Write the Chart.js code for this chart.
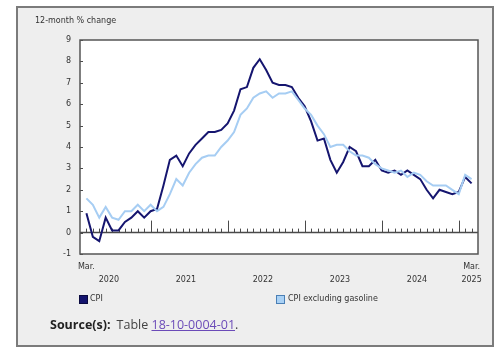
<!DOCTYPE html>
<html>
<head>
<meta charset="utf-8">
<script src="https://cdn.jsdelivr.net/npm/chart.js@4.4.1/dist/chart.umd.min.js"></script>
<style>
  html, body { margin: 0; padding: 0; background: #ffffff; }
  #wrap { position: relative; width: 500px; height: 355px; overflow: hidden; }
  #box { position: absolute; left: 16px; top: 6px; width: 474px; height: 337px; background: #eeeeee; border: 2px solid #7b7b7b; }
  #c { position: absolute; left: 0; top: 0; }
  .leg { position: absolute; font: 8px "DejaVu Sans", sans-serif; color: #333; white-space: nowrap; }
  .sw { position: absolute; width: 7px; height: 7px; }
  #src { position: absolute; left: 50px; top: 316px; font: 12.5px "Open Sans", sans-serif; color: #444; white-space: nowrap; }
  #src b { color: #222; font-weight: 700; margin-right: 6px; }
  #src a { color: #6b4bb8; text-decoration: underline; }
</style>
</head>
<body>
<div id="wrap">
  <div id="box"></div>
  <canvas id="c" width="500" height="355"></canvas>
  <div class="sw" style="left:79px;top:295px;background:#14146e;border:1px solid #0a0a40;"></div>
  <div class="leg" style="left:90px;top:294px;">CPI</div>
  <div class="sw" style="left:276px;top:295px;background:#a9d1f5;border:1px solid #4a7fb5;"></div>
  <div class="leg" style="left:288px;top:294px;">CPI excluding gasoline</div>
  <div id="src"><b>Source(s):</b>Table <a href="#">18-10-0004-01</a>.</div>
</div>
<script>
// Months: March 2020 to March 2025
const categories = [
  "Mar 2020","Apr 2020","May 2020","Jun 2020","Jul 2020","Aug 2020","Sep 2020","Oct 2020","Nov 2020","Dec 2020",
  "Jan 2021","Feb 2021","Mar 2021","Apr 2021","May 2021","Jun 2021","Jul 2021","Aug 2021","Sep 2021","Oct 2021","Nov 2021","Dec 2021",
  "Jan 2022","Feb 2022","Mar 2022","Apr 2022","May 2022","Jun 2022","Jul 2022","Aug 2022","Sep 2022","Oct 2022","Nov 2022","Dec 2022",
  "Jan 2023","Feb 2023","Mar 2023","Apr 2023","May 2023","Jun 2023","Jul 2023","Aug 2023","Sep 2023","Oct 2023","Nov 2023","Dec 2023",
  "Jan 2024","Feb 2024","Mar 2024","Apr 2024","May 2024","Jun 2024","Jul 2024","Aug 2024","Sep 2024","Oct 2024","Nov 2024","Dec 2024",
  "Jan 2025","Feb 2025","Mar 2025"
];

const cpi = [
  0.9,-0.2,-0.4,0.7,0.1,0.1,0.5,0.7,1.0,0.7,
  1.0,1.1,2.2,3.4,3.6,3.1,3.7,4.1,4.4,4.7,4.7,4.8,
  5.1,5.7,6.7,6.8,7.7,8.1,7.6,7.0,6.9,6.9,6.8,6.3,
  5.9,5.2,4.3,4.4,3.4,2.8,3.3,4.0,3.8,3.1,3.1,3.4,
  2.9,2.8,2.9,2.7,2.9,2.7,2.5,2.0,1.6,2.0,1.9,1.8,
  1.9,2.6,2.3
];

const cpiExGas = [
  1.6,1.3,0.7,1.2,0.7,0.6,1.0,1.0,1.3,1.0,
  1.3,1.0,1.2,1.8,2.5,2.2,2.8,3.2,3.5,3.6,3.6,4.0,
  4.3,4.7,5.5,5.8,6.3,6.5,6.6,6.3,6.5,6.5,6.6,6.2,
  5.8,5.5,5.0,4.6,4.0,4.1,4.1,3.8,3.6,3.6,3.5,3.2,
  3.0,2.9,2.8,2.9,2.6,2.8,2.7,2.4,2.2,2.2,2.2,2.0,
  1.8,2.7,2.5
];

const yTicks = [-1,0,1,2,3,4,5,6,7,8,9];
const yearLabels = ["2020","2021","2022","2023","2024","2025"];
const monthLabel = "Mar.";
const yTitle = "12-month % change";

const FONT = '8px "DejaVu Sans", sans-serif';
const TXT = '#333333';

const decorPlugin = {
  id: 'decor',
  beforeDatasetsDraw(chart) {
    const {ctx, chartArea: a, scales: {x, y}} = chart;
    ctx.save();
    const y0 = y.getPixelForValue(0);
    // zero line
    ctx.strokeStyle = '#4a4a4a';
    ctx.lineWidth = 1.5;
    ctx.beginPath(); ctx.moveTo(a.left, y0); ctx.lineTo(a.right, y0); ctx.stroke();
    // month ticks
    ctx.lineWidth = 1;
    categories.forEach((c, i) => {
      const px = Math.round(x.getPixelForValue(i)) + 0.5;
      const major = c.startsWith('Jan');
      ctx.beginPath(); ctx.moveTo(px, y0); ctx.lineTo(px, y0 - (major ? 12 : 4)); ctx.stroke();
    });
    // y inward ticks
    yTicks.forEach(v => {
      const py = Math.round(y.getPixelForValue(v)) + 0.5;
      ctx.beginPath(); ctx.moveTo(a.left, py); ctx.lineTo(a.left + 3, py); ctx.stroke();
    });
    ctx.restore();
  },
  beforeDraw(chart) {
    const {ctx, chartArea: a} = chart;
    ctx.save();
    ctx.fillStyle = '#ffffff';
    ctx.fillRect(a.left, a.top, a.right - a.left, a.bottom - a.top);
    ctx.restore();
  },
  afterDatasetsDraw(chart) {
    const {ctx, chartArea: a, scales: {x}} = chart;
    ctx.save();
    ctx.strokeStyle = '#555555';
    ctx.lineWidth = 1.5;
    ctx.strokeRect(a.left, a.top, a.right - a.left, a.bottom - a.top);
    // texts
    ctx.fillStyle = TXT;
    ctx.font = FONT;
    ctx.textBaseline = 'middle';
    ctx.textAlign = 'left';
    ctx.fillText(yTitle, 35, 21);
    ctx.textAlign = 'center';
    const first = x.getPixelForValue(0);
    const last = x.getPixelForValue(categories.length - 1);
    ctx.fillText(monthLabel, first, 267);
    ctx.fillText(monthLabel, last, 267);
    yearLabels.forEach((yr, k) => {
      let px;
      if (k === yearLabels.length - 1) px = last;
      else px = x.getPixelForValue(k * 12 - 2 + 5.5);
      ctx.fillText(yr, px, 280);
    });
    ctx.restore();
  }
};

new Chart(document.getElementById('c'), {
  type: 'line',
  data: {
    datasets: [
      {
        label: 'CPI',
        data: cpi.map((v, i) => ({x: i, y: v})),
        borderColor: '#15156f',
        borderWidth: 2,
        pointRadius: 0,
        tension: 0,
        fill: false
      },
      {
        label: 'CPI excluding gasoline',
        data: cpiExGas.map((v, i) => ({x: i, y: v})),
        borderColor: '#a6cdf3',
        borderWidth: 2,
        pointRadius: 0,
        tension: 0,
        fill: false
      }
    ].reverse()
  },
  options: {
    responsive: false,
    animation: false,
    devicePixelRatio: 1,
    layout: { padding: { left: 0, top: 40, right: 22, bottom: 101 } },
    plugins: { legend: { display: false }, tooltip: { enabled: false } },
    scales: {
      x: {
        type: 'linear',
        min: -1,
        max: categories.length,
        display: false
      },
      y: {
        min: -1,
        max: 9,
        afterFit(s) { s.width = 80; },
        afterBuildTicks(s) { s.ticks = yTicks.map(v => ({value: v})); },
        grid: { display: false, drawTicks: false },
        border: { display: false },
        ticks: { font: { family: 'DejaVu Sans', size: 8 }, color: TXT, padding: 9 }
      }
    }
  },
  plugins: [decorPlugin]
});
</script>
</body>
</html>
